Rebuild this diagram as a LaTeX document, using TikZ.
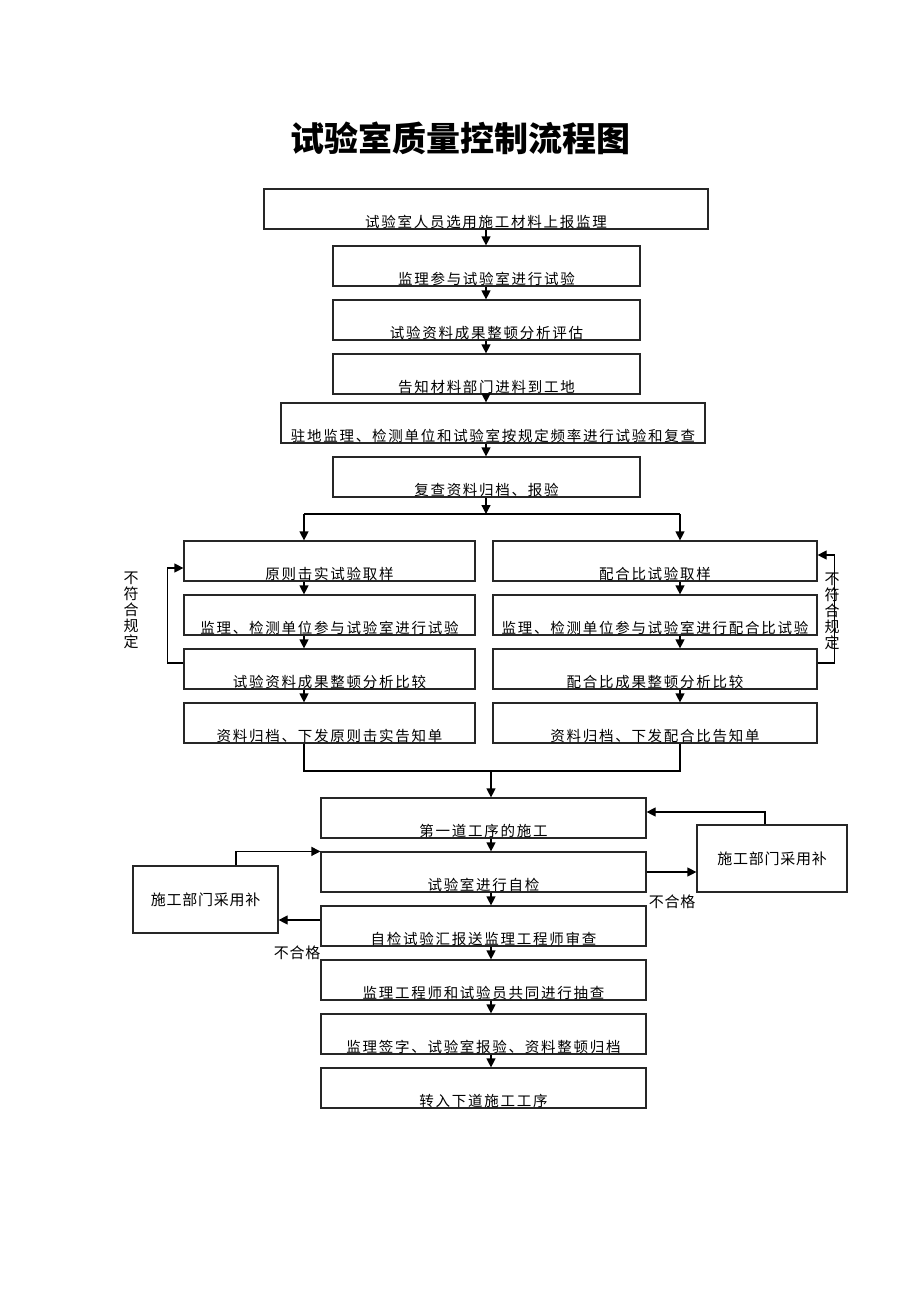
\documentclass[tikz,border=0pt]{standalone}
\usepackage{fontspec}
\setmainfont{Noto Sans CJK SC}
\usetikzlibrary{arrows.meta}
\begin{document}
\begin{tikzpicture}[x=1pt,y=-1pt,
  box/.style={draw=black!85, line width=1.2pt, inner sep=0pt, minimum height=40pt},
  sidebox/.style={draw=black!85, line width=1.2pt, inner sep=0pt, minimum height=67pt},
  txt/.style={font=\fontsize{14.5}{14.5}\selectfont\addfontfeatures{LetterSpace=12}, inner sep=0pt},
  side/.style={font=\fontsize{15}{15}\selectfont\addfontfeatures{LetterSpace=5}, inner sep=0pt},
  vert/.style={font=\fontsize{15}{16}\selectfont, inner sep=0pt, align=center},
  arr/.style={line width=1.2pt, -{Triangle[length=9pt,width=9pt]}},
  ln/.style={line width=1.2pt}]
\useasboundingbox (0,0) rectangle (920,1302);

% title
\node[font=\fontsize{34}{34}\selectfont\bfseries, inner sep=0pt] (title) at (460,138) {试验室质量控制流程图};

% top chain
\node[box, minimum width=444pt] (b1) at (486,209) {};
\node[box, minimum width=307pt] (b2) at (486.5,266) {};
\node[box, minimum width=307pt] (b3) at (486.5,320) {};
\node[box, minimum width=307pt] (b4) at (486.5,374) {};
\node[box, minimum width=424pt] (b5) at (493,423) {};
\node[box, minimum width=307pt] (b6) at (486.5,477) {};
\node[txt] (t1) at ([yshift=7.5pt]b1.south) {试验室人员选用施工材料上报监理};
\node[txt] (t2) at ([yshift=7.5pt]b2.south) {监理参与试验室进行试验};
\node[txt] (t3) at ([yshift=7.5pt]b3.south) {试验资料成果整顿分析评估};
\node[txt] (t4) at ([yshift=7.5pt]b4.south) {告知材料部门进料到工地};
\node[txt] (t5) at ([yshift=7.5pt]b5.south) {驻地监理、检测单位和试验室按规定频率进行试验和复查};
\node[txt] (t6) at ([yshift=7.5pt]b6.south) {复查资料归档、报验};

\coordinate (ax) at (486,0);
\draw[arr] (ax |- b1.south) -- (ax |- b2.north);
\draw[arr] (ax |- b2.south) -- (ax |- b3.north);
\draw[arr] (ax |- b3.south) -- (ax |- b4.north);
\draw[arr] (ax |- b4.south) -- (ax |- b5.north);
\draw[arr] (ax |- b5.south) -- (ax |- b6.north);

% split
\coordinate (s) at (486,514);
\coordinate (sl) at (304,514);
\coordinate (sr) at (680,514);
\draw[arr] (ax |- b6.south) -- (s);
\draw[ln] (sl) -- (sr);

% left column
\node[box, minimum width=291pt] (L1) at (329.5,561) {};
\node[box, minimum width=291pt] (L2) at (329.5,615) {};
\node[box, minimum width=291pt] (L3) at (329.5,669) {};
\node[box, minimum width=291pt] (L4) at (329.5,723) {};
\node[txt] (tl1) at ([yshift=7.5pt]L1.south) {原则击实试验取样};
\node[txt] (tl2) at ([yshift=7.5pt]L2.south) {监理、检测单位参与试验室进行试验};
\node[txt] (tl3) at ([yshift=7.5pt]L3.south) {试验资料成果整顿分析比较};
\node[txt] (tl4) at ([yshift=7.5pt]L4.south) {资料归档、下发原则击实告知单};

% right column
\node[box, minimum width=324pt] (R1) at (655,561) {};
\node[box, minimum width=324pt] (R2) at (655,615) {};
\node[box, minimum width=324pt] (R3) at (655,669) {};
\node[box, minimum width=324pt] (R4) at (655,723) {};
\node[txt] (tr1) at ([yshift=7.5pt]R1.south) {配合比试验取样};
\node[txt] (tr2) at ([yshift=7.5pt]R2.south) {监理、检测单位参与试验室进行配合比试验};
\node[txt] (tr3) at ([yshift=7.5pt]R3.south) {配合比成果整顿分析比较};
\node[txt] (tr4) at ([yshift=7.5pt]R4.south) {资料归档、下发配合比告知单};

\draw[arr] (sl) -- (sl |- L1.north);
\draw[arr] (sl |- L1.south) -- (sl |- L2.north);
\draw[arr] (sl |- L2.south) -- (sl |- L3.north);
\draw[arr] (sl |- L3.south) -- (sl |- L4.north);
\draw[arr] (sr) -- (sr |- R1.north);
\draw[arr] (sr |- R1.south) -- (sr |- R2.north);
\draw[arr] (sr |- R2.south) -- (sr |- R3.north);
\draw[arr] (sr |- R3.south) -- (sr |- R4.north);

% feedback loops
\coordinate (fl1) at ([yshift=6pt]L3.west);
\coordinate (fl2) at ([yshift=-7pt]L1.west);
\draw[arr] (fl1) -- ++(-16,0) |- (fl2);
\coordinate (fr1) at ([yshift=6pt]R3.east);
\coordinate (fr2) at ([yshift=6pt]R1.east);
\draw[arr] (fr1) -- ++(17,0) |- (fr2);
\node[vert] (vl) at (131,610) {不\\符\\合\\规\\定};
\node[vert] (vr) at (832,611) {不\\符\\合\\规\\定};

% merge
\coordinate (m) at (491,771);
\draw[ln] (sl |- L4.south) -- (sl |- m) -- (sr |- m) -- (sr |- R4.south);

% bottom chain
\node[box, minimum width=325pt] (B1) at (483.5,818) {};
\node[box, minimum width=325pt] (B2) at (483.5,872) {};
\node[box, minimum width=325pt] (B3) at (483.5,926) {};
\node[box, minimum width=325pt] (B4) at (483.5,980) {};
\node[box, minimum width=325pt] (B5) at (483.5,1034) {};
\node[box, minimum width=325pt] (B6) at (483.5,1088) {};
\node[txt] (tb1) at ([yshift=7.5pt]B1.south) {第一道工序的施工};
\node[txt] (tb2) at ([yshift=7.5pt]B2.south) {试验室进行自检};
\node[txt] (tb3) at ([yshift=7.5pt]B3.south) {自检试验汇报送监理工程师审查};
\node[txt] (tb4) at ([yshift=7.5pt]B4.south) {监理工程师和试验员共同进行抽查};
\node[txt] (tb5) at ([yshift=7.5pt]B5.south) {监理签字、试验室报验、资料整顿归档};
\node[txt] (tb6) at ([yshift=7.5pt]B6.south) {转入下道施工工序};

\draw[arr] (m) -- (m |- B1.north);
\draw[arr] (m |- B1.south) -- (m |- B2.north);
\draw[arr] (m |- B2.south) -- (m |- B3.north);
\draw[arr] (m |- B3.south) -- (m |- B4.north);
\draw[arr] (m |- B4.south) -- (m |- B5.north);
\draw[arr] (m |- B5.south) -- (m |- B6.north);

% side boxes
\node[sidebox, minimum width=150pt] (RB) at (772,858.5) {};
\node[side] (trb) at (RB.center) {施工部门采用补};
\node[sidebox, minimum width=145pt] (LB) at (205.5,899.5) {};
\node[side] (tlb) at (LB.center) {施工部门采用补};

\draw[arr] (B2.east) -- (B2.east -| RB.west);
\node[side] (n1) at (672,902) {不合格};
\coordinate (rbt) at ([xshift=-7pt]RB.north);
\coordinate (b1r) at ([yshift=6pt]B1.east);
\draw[arr] (rbt) |- (b1r);

\coordinate (p3) at ([yshift=6pt]B3.west);
\draw[arr] (p3) -- (p3 -| LB.east);
\node[side] (n2) at (297,953) {不合格};
\coordinate (lbt) at ([xshift=30.5pt]LB.north);
\draw[arr] (lbt) |- (B2.north west);
\end{tikzpicture}
\end{document}
